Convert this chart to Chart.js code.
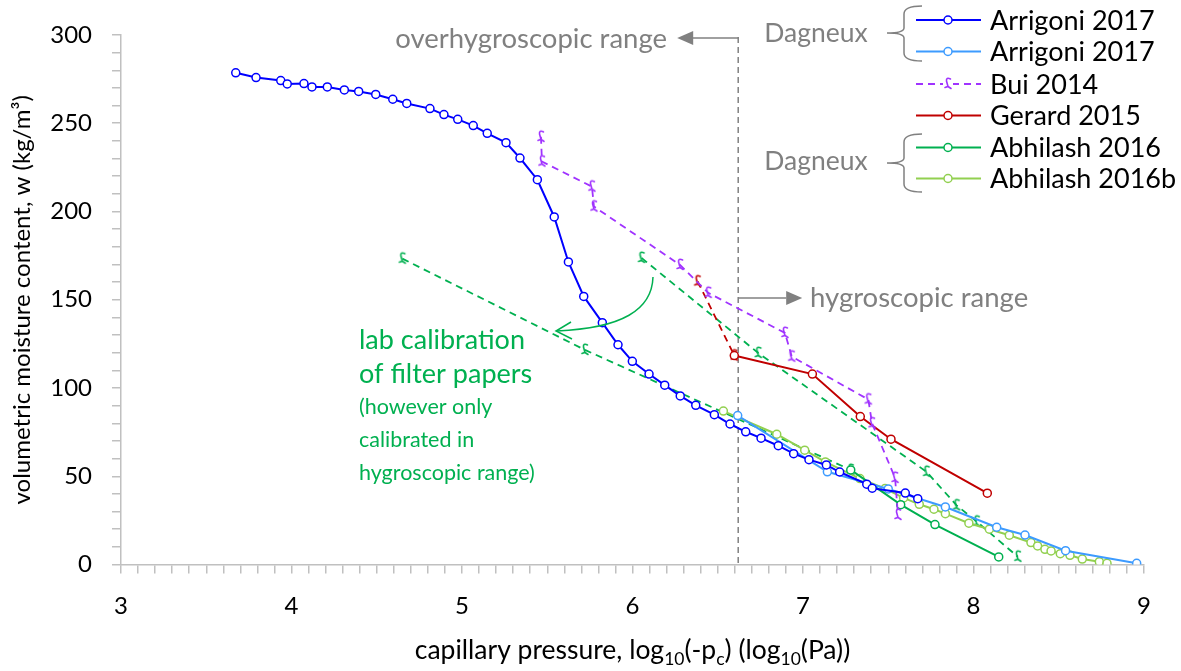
<!DOCTYPE html>
<html>
<head>
<meta charset="utf-8">
<script src="https://cdn.jsdelivr.net/npm/chart.js@4.4.1/dist/chart.umd.min.js"></script>
<style>
  html, body { margin: 0; padding: 0; background: #ffffff; }
  #wrap { width: 1181px; height: 671px; position: relative; }
</style>
</head>
<body>
<div id="wrap"><canvas id="c"></canvas></div>
<script>
// Moisture retention data: x = log10(-pc) in log10(Pa), w = volumetric moisture content in kg/m3
const arrigoniX = [3.673, 3.792, 3.937, 3.975, 4.073, 4.120, 4.210, 4.310, 4.394, 4.494, 4.594, 4.676, 4.812, 4.894, 4.975, 5.066, 5.148, 5.258, 5.340, 5.442, 5.541, 5.624, 5.714, 5.823, 5.915, 5.999, 6.097, 6.189, 6.280, 6.371, 6.480, 6.572, 6.664, 6.754, 6.855, 6.945, 7.035, 7.137, 7.215, 7.374, 7.406, 7.600, 7.673];
const arrigoniW = [278.6, 275.9, 274.2, 272.3, 272.5, 270.6, 270.6, 268.9, 268.0, 266.3, 263.6, 261.2, 258.3, 254.9, 252.2, 248.7, 244.3, 239.0, 230.3, 218.0, 196.9, 171.4, 151.9, 137.0, 124.5, 115.1, 107.9, 101.6, 95.5, 90.2, 84.9, 79.6, 75.2, 71.6, 67.3, 62.8, 59.4, 56.4, 52.4, 45.5, 43.2, 40.5, 37.3];

const arrigoniBX = [6.617, 7.143, 7.500, 7.835, 8.136, 8.302, 8.540, 8.957];
const arrigoniBW = [84.4, 52.5, 42.8, 32.6, 21.1, 16.7, 7.8, 0.7];

const buiX = [5.463, 5.469, 5.762, 5.774, 6.279, 6.444, 6.894, 6.934, 7.383, 7.405, 7.540, 7.557];
const buiW = [242.3, 228.3, 214.1, 202.8, 169.7, 153.9, 131.2, 117.8, 93.5, 80.0, 49.1, 28.1];

const gerardX = [6.597, 7.055, 7.336, 7.516, 8.081];
const gerardW = [118.4, 107.9, 83.8, 71.0, 40.4];
const gerardDashX = [6.382, 6.597];
const gerardDashW = [160.4, 118.4];

const abhilashX = [7.280, 7.573, 7.774, 8.148];
const abhilashW = [53.6, 33.9, 22.6, 4.3];

const abhilashBX = [6.533, 6.846, 7.010, 7.131, 7.334, 7.481, 7.590, 7.682, 7.768, 7.835, 7.973, 8.093, 8.210, 8.337, 8.376, 8.419, 8.455, 8.509, 8.566, 8.638, 8.738, 8.783];
const abhilashBW = [86.9, 73.8, 64.8, 58.1, 48.7, 43.0, 37.7, 34.1, 31.3, 28.8, 23.4, 20.0, 16.6, 12.4, 10.5, 8.6, 7.7, 6.1, 5.2, 3.1, 1.6, 0.7];

// filter paper calibration curves
const calibAX = [4.650, 5.721, 7.280];
const calibAW = [173.3, 121.6, 53.6];
const calibBX = [6.053, 6.738, 7.725, 7.901, 8.019, 8.260];
const calibBW = [173.7, 119.8, 52.5, 33.5, 24.3, 4.4];

// axis labels
const xTickLabels = ['3', '4', '5', '6', '7', '8', '9'];
const yTickLabels = ['0', '50', '100', '150', '200', '250', '300'];
const rangeLimit = 6.62; // boundary between overhygroscopic and hygroscopic range

const legendNames = ['Arrigoni 2017', 'Arrigoni 2017', 'Bui 2014', 'Gerard 2015', 'Abhilash 2016', 'Abhilash 2016b'];

const FONT = 'Lato, "Open Sans", sans-serif';
const GRAY = '#808080';
const GREEN = '#00b050';

const pts = (xs, ws) => xs.map((x, i) => ({ x: x, y: ws[i] }));

// small hook-shaped marker used for the dashed series
function glyph(color) {
  const c = document.createElement('canvas');
  c.width = 12; c.height = 16;
  const g = c.getContext('2d');
  g.strokeStyle = color; g.lineWidth = 1.6; g.lineCap = 'round';
  g.beginPath();
  g.moveTo(8.5, 3);
  g.quadraticCurveTo(4, 1, 4.5, 5);
  g.lineTo(6, 10.5);
  g.moveTo(3, 11.5);
  g.lineTo(6, 10.5);
  g.lineTo(9, 12.5);
  g.stroke();
  return c;
}

function solid(label, xs, ws, color) {
  return {
    label: label, data: pts(xs, ws), showLine: true,
    borderColor: color, backgroundColor: '#ffffff', borderWidth: 2,
    pointRadius: 4, pointBorderWidth: 1.5, pointBorderColor: color,
    pointBackgroundColor: '#ffffff', pointStyle: 'circle'
  };
}
function dashed(label, xs, ws, color) {
  return {
    label: label, data: pts(xs, ws), showLine: true,
    borderColor: color, borderWidth: 1.8, borderDash: [7, 5],
    pointStyle: glyph(color), pointRadius: 6
  };
}

const datasets = [
  solid(legendNames[0], arrigoniX, arrigoniW, '#0000ff'),
  solid(legendNames[1], arrigoniBX, arrigoniBW, '#3d9bff'),
  dashed(legendNames[2], buiX, buiW, '#a033ff'),
  solid(legendNames[3], gerardX, gerardW, '#c00000'),
  solid(legendNames[4], abhilashX, abhilashW, GREEN),
  solid(legendNames[5], abhilashBX, abhilashBW, '#92d050'),
  dashed('Gerard 2015 (extrapolated)', gerardDashX, gerardDashW, '#c00000'),
  dashed('calibration A', calibAX, calibAW, GREEN),
  dashed('calibration B', calibBX, calibBW, GREEN)
];

function arrowHead(ctx, tipX, tipY, dir) {
  ctx.beginPath();
  ctx.moveTo(tipX, tipY);
  ctx.lineTo(tipX - dir * 16, tipY - 7);
  ctx.lineTo(tipX - dir * 16, tipY + 7);
  ctx.closePath();
  ctx.fill();
}

function bracket(ctx, x, top, mid, bottom) {
  ctx.beginPath();
  ctx.moveTo(x + 18, top);
  ctx.quadraticCurveTo(x, top, x, top + 8);
  ctx.lineTo(x, mid - 5);
  ctx.quadraticCurveTo(x, mid, x - 17, mid);
  ctx.quadraticCurveTo(x, mid, x, mid + 5);
  ctx.lineTo(x, bottom - 8);
  ctx.quadraticCurveTo(x, bottom, x + 18, bottom);
  ctx.stroke();
}

const decor = {
  id: 'decor',
  beforeDatasetsDraw(chart) {
    const ctx = chart.ctx, a = chart.chartArea;
    const vx = chart.scales.x.getPixelForValue(rangeLimit);
    ctx.save();
    ctx.strokeStyle = GRAY; ctx.lineWidth = 1.5; ctx.setLineDash([6, 4]);
    ctx.beginPath(); ctx.moveTo(vx, a.top + 2); ctx.lineTo(vx, a.bottom); ctx.stroke();
    ctx.restore();
  },
  afterDraw(chart) {
    const ctx = chart.ctx, a = chart.chartArea;
    const vx = chart.scales.x.getPixelForValue(rangeLimit);
    ctx.save();

    // range arrows
    ctx.strokeStyle = GRAY; ctx.fillStyle = GRAY; ctx.lineWidth = 1.5;
    ctx.beginPath(); ctx.moveTo(vx, 38); ctx.lineTo(vx - 46, 38); ctx.stroke();
    arrowHead(ctx, vx - 61, 38, -1);
    ctx.beginPath(); ctx.moveTo(vx, 298); ctx.lineTo(vx + 48, 298); ctx.stroke();
    arrowHead(ctx, vx + 64, 298, 1);

    ctx.font = '27.5px ' + FONT; ctx.textBaseline = 'middle';
    ctx.textAlign = 'right'; ctx.fillText('overhygroscopic range', 667, 39);
    ctx.textAlign = 'left'; ctx.fillText('hygroscopic range', 810, 298);
    ctx.font = '26.5px ' + FONT;
    ctx.textAlign = 'center';
    ctx.fillText('Dagneux', 816, 33);
    ctx.fillText('Dagneux', 816, 161);
    bracket(ctx, 904, 6, 33, 61);
    bracket(ctx, 904, 134, 163, 192);

    // filter paper note
    ctx.fillStyle = GREEN; ctx.strokeStyle = GREEN; ctx.textAlign = 'left';
    ctx.font = '27px ' + FONT;
    ctx.fillText('lab calibration', 359, 340);
    ctx.fillText('of filter papers', 359, 374);
    ctx.font = '21.5px ' + FONT;
    ctx.fillText('(however only', 359, 407);
    ctx.fillText('calibrated in', 359, 440);
    ctx.fillText('hygroscopic range)', 359, 473);
    ctx.lineWidth = 1.5;
    ctx.beginPath();
    ctx.moveTo(653, 277);
    ctx.bezierCurveTo(652, 310, 622, 328, 557, 331);
    ctx.stroke();
    ctx.beginPath();
    ctx.moveTo(571, 322); ctx.lineTo(556, 331); ctx.lineTo(572, 339);
    ctx.stroke();

    // legend
    const rows = [20, 51.5, 84, 115.5, 147.5, 178.5];
    ctx.font = '27px ' + FONT; ctx.textAlign = 'left'; ctx.textBaseline = 'middle';
    for (let i = 0; i < 6; i++) {
      const ds = chart.data.datasets[i];
      const y = rows[i];
      ctx.save();
      ctx.strokeStyle = ds.borderColor; ctx.lineWidth = ds.borderWidth;
      ctx.setLineDash(ds.borderDash || []);
      ctx.beginPath(); ctx.moveTo(916, y); ctx.lineTo(981, y); ctx.stroke();
      ctx.setLineDash([]);
      if (ds.borderDash) {
        const g = ds.pointStyle;
        ctx.fillStyle = '#ffffff';
        ctx.fillRect(943, y - 5, 10, 10);
        ctx.drawImage(g, 948 - g.width / 2, y - g.height / 2);
      } else {
        ctx.fillStyle = '#ffffff'; ctx.lineWidth = 1.5;
        ctx.beginPath(); ctx.arc(948, y, 4, 0, Math.PI * 2); ctx.fill(); ctx.stroke();
      }
      ctx.restore();
      ctx.fillStyle = '#000000';
      ctx.fillText(ds.label, 990, y + 1);
    }

    // axis titles
    ctx.fillStyle = '#000000';
    ctx.save();
    ctx.translate(22, (a.top + a.bottom) / 2);
    ctx.rotate(-Math.PI / 2);
    ctx.font = '24px ' + FONT; ctx.textAlign = 'center'; ctx.textBaseline = 'middle';
    ctx.fillText('volumetric moisture content, w (kg/m³)', 0, 0);
    ctx.restore();

    const parts = [
      ['capillary pressure, log', false], ['10', true], ['(-p', false], ['c', true],
      [') (log', false], ['10', true], ['(Pa))', false]
    ];
    const big = '26.5px ' + FONT, small = '17.5px ' + FONT;
    let total = 0;
    parts.forEach(p => { ctx.font = p[1] ? small : big; total += ctx.measureText(p[0]).width; });
    let x = (a.left + a.right) / 2 - total / 2;
    const base = 659;
    ctx.textAlign = 'left'; ctx.textBaseline = 'alphabetic';
    parts.forEach(p => {
      ctx.font = p[1] ? small : big;
      ctx.fillText(p[0], x, p[1] ? base + 6 : base);
      x += ctx.measureText(p[0]).width;
    });
    ctx.restore();
  }
};

function isMajor(v, labels) {
  return labels.some(l => Math.abs(Number(l) - v) < 1e-6);
}

function build() {
  new Chart(document.getElementById('c'), {
    type: 'scatter',
    data: { datasets: datasets },
    options: {
      responsive: true, maintainAspectRatio: false, devicePixelRatio: 1,
      animation: false,
      layout: { padding: { left: 0, right: 37, top: 35, bottom: 0 } },
      plugins: { legend: { display: false }, tooltip: { enabled: false } },
      scales: {
        x: {
          type: 'linear', min: 3, max: 9,
          afterFit: s => { s.height = 106.5; },
          afterBuildTicks: s => {
            const t = [];
            for (let i = 0; i <= 60; i++) t.push({ value: 3 + i / 10 });
            s.ticks = t;
          },
          ticks: {
            autoSkip: false, maxRotation: 0, padding: 18, color: '#000000',
            font: { family: FONT, size: 24 },
            callback: v => isMajor(v, xTickLabels) ? String(Math.round(v)) : ''
          },
          grid: { drawOnChartArea: false, tickLength: 9, color: '#c0c0c0', lineWidth: 1.5 },
          border: { color: '#c0c0c0', width: 1.5 }
        },
        y: {
          type: 'linear', min: 0, max: 300,
          afterFit: s => { s.width = 121; },
          afterBuildTicks: s => {
            const t = [];
            for (let i = 0; i <= 30; i++) t.push({ value: i * 10 });
            s.ticks = t;
          },
          ticks: {
            autoSkip: false, padding: 20, color: '#000000',
            font: { family: FONT, size: 24 },
            callback: v => isMajor(v, yTickLabels) ? String(Math.round(v)) : ''
          },
          grid: { drawOnChartArea: false, tickLength: 9, color: '#c0c0c0', lineWidth: 1.5 },
          border: { color: '#c0c0c0', width: 1.5 }
        }
      }
    },
    plugins: [decor]
  });
}

if (document.fonts && document.fonts.load) {
  Promise.all([document.fonts.load('23px Lato'), document.fonts.load('20px Lato')])
    .catch(() => null).then(build);
} else {
  build();
}
</script>
</body>
</html>
